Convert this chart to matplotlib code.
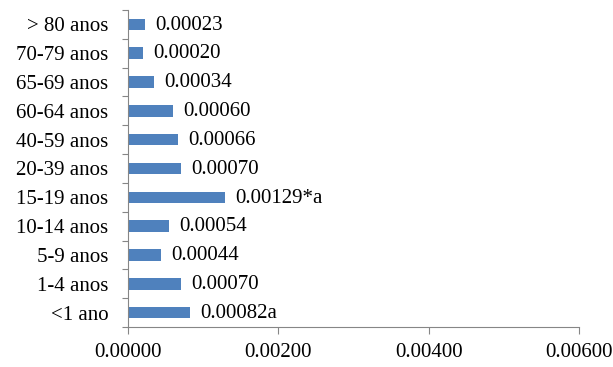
import matplotlib
matplotlib.use("Agg")
import matplotlib.pyplot as plt
from matplotlib.ticker import FixedLocator, FormatStrFormatter

# Incidence by age group, listed from the bottom row upward
age_groups = ["<1 ano", "1-4 anos", "5-9 anos", "10-14 anos", "15-19 anos",
              "20-39 anos", "40-59 anos", "60-64 anos", "65-69 anos",
              "70-79 anos", "> 80 anos"]
rates = [0.00082, 0.00070, 0.00044, 0.00054, 0.00129, 0.00070,
         0.00066, 0.00060, 0.00034, 0.00020, 0.00023]
suffixes = ["a", "", "", "", "*a", "", "", "", "", "", ""]
x_ticks = [0.0, 0.002, 0.004, 0.006]

plt.rcParams["font.family"] = ["Liberation Serif", "DejaVu Serif"]
plt.rcParams["font.size"] = 15

fig = plt.figure(figsize=(6.13, 3.67), dpi=100)
ax = fig.add_axes([0.2088, 0.109, 0.7357, 0.8638])

bar_color = "#4F81BD"
axis_color = "#868686"
ypos = list(range(len(age_groups)))
ax.barh(ypos, rates, height=0.4, color=bar_color, edgecolor="none")

for y, v, s in zip(ypos, rates, suffixes):
    ax.annotate(f"{v:.5f}{s}", xy=(v, y), xytext=(7.5, -0.5),
                textcoords="offset points", va="center", ha="left",
                fontsize=15, color="black")

ax.set_xlim(0, 0.006)
ax.set_ylim(-0.5, len(age_groups) - 0.5)

ax.xaxis.set_major_locator(FixedLocator(x_ticks))
ax.xaxis.set_major_formatter(FormatStrFormatter("%.5f"))
ax.tick_params(axis="x", direction="out", length=5, width=0.8,
               color=axis_color, pad=6.5, labelsize=15)

ax.set_yticks(ypos)
ax.set_yticklabels(age_groups)
ax.tick_params(axis="y", which="major", length=0, pad=14, labelsize=15)
ax.yaxis.set_minor_locator(FixedLocator([i - 0.5 for i in range(len(age_groups) + 1)]))
ax.tick_params(axis="y", which="minor", direction="out", length=4.3, width=0.8,
               color=axis_color)

for side in ["top", "right"]:
    ax.spines[side].set_visible(False)
for side in ["left", "bottom"]:
    ax.spines[side].set_color(axis_color)
    ax.spines[side].set_linewidth(0.8)

fig.savefig("out.png", dpi=100)
